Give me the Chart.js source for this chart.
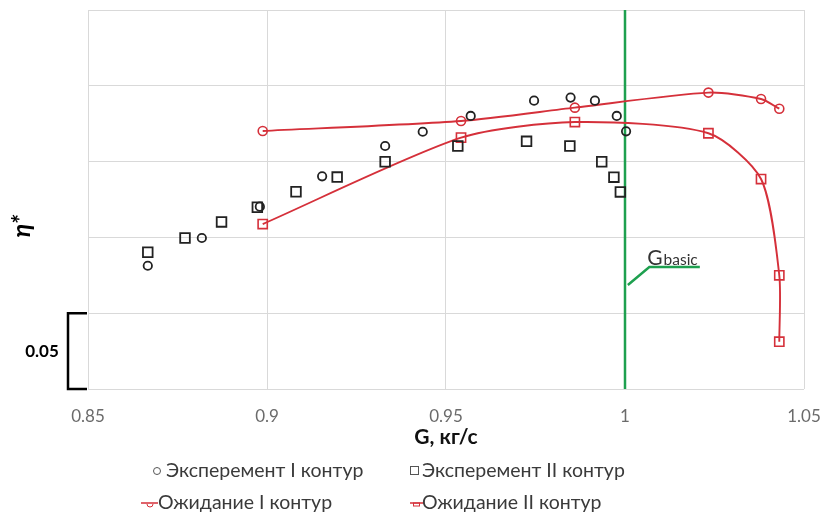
<!DOCTYPE html>
<html lang="ru">
<head>
<meta charset="utf-8">
<title>η* (G)</title>
<script src="https://cdn.jsdelivr.net/npm/chart.js@4.4.1/dist/chart.umd.min.js"></script>
<style>
  html, body { margin: 0; padding: 0; background: #fff; }
  #wrap { position: relative; width: 825px; height: 524px; }
</style>
</head>
<body>
<div id="wrap"><canvas id="chart"></canvas></div>
<script>
// Эксперимент I контур (кружки)
const exp1G   = [0.8667, 0.8818, 0.8980, 0.9154, 0.9330, 0.9435, 0.9569, 0.9746, 0.9848, 0.9916, 0.9977, 1.0003];
const exp1Eta = [0.6813, 0.6996, 0.7203, 0.7403, 0.7603, 0.7697, 0.7801, 0.7902, 0.7922, 0.7902, 0.7801, 0.7700];
// Эксперимент II контур (квадраты)
const exp2G   = [0.8667, 0.8771, 0.8873, 0.8973, 0.9081, 0.9196, 0.9330, 0.9533, 0.9725, 0.9846, 0.9935, 0.9969, 0.9987];
const exp2Eta = [0.6902, 0.6996, 0.7102, 0.7199, 0.7301, 0.7398, 0.7499, 0.7603, 0.7634, 0.7603, 0.7499, 0.7397, 0.7300];
// Ожидание I / II контур
const calc1G   = [0.8988, 0.9542, 0.9860, 1.0233, 1.0380, 1.0431];
const calc1Eta = [0.7702, 0.7768, 0.7856, 0.7955, 0.7913, 0.7849];
const calc2G   = [0.8988, 0.9542, 0.9860, 1.0233, 1.0380, 1.0431, 1.0431];
const calc2Eta = [0.7088, 0.7658, 0.7761, 0.7687, 0.7385, 0.6750, 0.6312];
// G basic marker
const gBasicG = [1.0, 1.0];
const gBasicEta = [0.6, 0.85];
const leaderG = [1.0008, 1.0068, 1.0209];
const leaderEta = [0.6686, 0.6805, 0.6805];
const gBasicLabelAt = [1.0062, 0.6818];
// axes
const xTicks = [0.85, 0.9, 0.95, 1, 1.05];
const yGrid = [0.6, 0.65, 0.7, 0.75, 0.8, 0.85];
const scaleBarEta = [0.6, 0.65];
const scaleBarText = '0.05';

const legendNames = ['Эксперемент I контур', 'Эксперемент II контур', 'Ожидание I контур', 'Ожидание II контур'];

const pts = (xs, ys) => xs.map((v, i) => ({ x: v, y: ys[i] }));

const RED = '#d5303a';
const GREEN = '#1ea04f';
const FONT = 'Lato, "Open Sans", sans-serif';

const extras = {
    id: 'extras',
    afterDraw: (chart) => {
        const { ctx, scales: { x, y } } = chart;
        ctx.save();

        // G basic label
        const lx = x.getPixelForValue(gBasicLabelAt[0]);
        const ly = y.getPixelForValue(gBasicLabelAt[1]);
        ctx.fillStyle = '#333';
        ctx.textBaseline = 'alphabetic';
        ctx.textAlign = 'left';
        ctx.font = '21px ' + FONT;
        ctx.fillText('G', lx, ly);
        const gw = ctx.measureText('G').width;
        ctx.font = '15.5px ' + FONT;
        ctx.fillText('basic', lx + gw + 1, ly);

        // scale bar 0.05
        const yb0 = y.getPixelForValue(scaleBarEta[0]);
        const yb1 = y.getPixelForValue(scaleBarEta[1]);
        ctx.strokeStyle = '#000';
        ctx.lineWidth = 2.5;
        ctx.beginPath();
        ctx.moveTo(87, yb1);
        ctx.lineTo(68, yb1);
        ctx.lineTo(68, yb0);
        ctx.lineTo(87, yb0);
        ctx.stroke();
        ctx.fillStyle = '#000';
        ctx.font = 'bold 17px ' + FONT;
        ctx.textAlign = 'center';
        ctx.textBaseline = 'middle';
        ctx.fillText(scaleBarText, 42, (yb0 + yb1) / 2);

        // y title
        ctx.save();
        ctx.translate(22, 226);
        ctx.rotate(-Math.PI / 2);
        ctx.font = 'italic bold 25px ' + FONT;
        ctx.fillText('η*', 0, 0);
        ctx.restore();

        // legend, 2 x 2
        ctx.font = '19.5px ' + FONT;
        ctx.fillStyle = '#3a3a3a';
        ctx.textAlign = 'left';
        ctx.textBaseline = 'middle';
        const r1 = 471, r2 = 503;
        ctx.fillText(legendNames[0], 166, r1);
        ctx.fillText(legendNames[1], 422, r1);
        ctx.fillText(legendNames[2], 158, r2);
        ctx.fillText(legendNames[3], 422, r2);

        ctx.strokeStyle = '#555';
        ctx.lineWidth = 1;
        ctx.beginPath();
        ctx.arc(157, r1, 3.5, 0, Math.PI * 2);
        ctx.stroke();
        ctx.strokeRect(410.5, r1 - 4.5, 8, 8);

        ctx.strokeStyle = RED;
        ctx.lineWidth = 1.5;
        ctx.beginPath();
        ctx.moveTo(141, r2); ctx.lineTo(158, r2);
        ctx.moveTo(410, r2); ctx.lineTo(423, r2);
        ctx.stroke();
        ctx.lineWidth = 1;
        ctx.beginPath();
        ctx.arc(150, r2 + 1, 3, 0, Math.PI);
        ctx.stroke();
        ctx.strokeRect(413.5, r2, 6, 3);

        ctx.restore();
    }
};

const ctx = document.getElementById('chart');
new Chart(ctx, {
    type: 'scatter',
    data: {
        datasets: [
            {
                label: legendNames[0], data: pts(exp1G, exp1Eta), order: 0,
                pointStyle: 'circle', pointRadius: 4.2, borderColor: '#222', borderWidth: 1.8,
                backgroundColor: 'rgba(0,0,0,0)', showLine: false
            },
            {
                label: legendNames[1], data: pts(exp2G, exp2Eta), order: 0,
                pointStyle: 'rect', pointRadius: 6.8, borderColor: '#222', borderWidth: 1.8,
                backgroundColor: 'rgba(0,0,0,0)', showLine: false
            },
            {
                label: legendNames[2], data: pts(calc1G, calc1Eta), order: 1,
                pointStyle: 'circle', pointRadius: 4.5, borderColor: RED, pointBorderWidth: 1.6,
                borderWidth: 1.9, backgroundColor: 'rgba(0,0,0,0)', showLine: true, tension: 0.25
            },
            {
                label: legendNames[3], data: pts(calc2G, calc2Eta), order: 1,
                pointStyle: 'rect', pointRadius: 6.5, borderColor: RED, pointBorderWidth: 1.6,
                borderWidth: 1.9, backgroundColor: 'rgba(0,0,0,0)', showLine: true, tension: 0.25
            },
            {
                label: 'Gbasic', data: pts(gBasicG, gBasicEta), order: 2,
                pointRadius: 0, borderColor: GREEN, borderWidth: 2.5, showLine: true
            },
            {
                label: 'leader', data: pts(leaderG, leaderEta), order: 2,
                pointRadius: 0, borderColor: GREEN, borderWidth: 2.5, showLine: true, tension: 0
            }
        ]
    },
    options: {
        responsive: true,
        maintainAspectRatio: false,
        animation: false,
        layout: { padding: { left: 0, right: 21, top: 10, bottom: 74 } },
        plugins: {
            legend: { display: false },
            tooltip: { enabled: false }
        },
        scales: {
            x: {
                type: 'linear', min: 0.85, max: 1.05,
                afterBuildTicks: (s) => { s.ticks = xTicks.map(v => ({ value: v })); },
                afterFit: (s) => { s.height = 61; s.paddingLeft = 0; s.paddingRight = 0; },
                ticks: { color: '#6b6b6b', font: { family: FONT, size: 17 }, padding: 17, callback: (v) => String(v) },
                grid: { color: '#d9d9d9', drawTicks: false, lineWidth: 1 },
                border: { display: false },
                title: { display: true, text: 'G, кг/с', color: '#111', font: { family: FONT, size: 21, weight: 'bold' }, padding: { top: 0, bottom: 0 } }
            },
            y: {
                type: 'linear', min: 0.6, max: 0.85,
                afterBuildTicks: (s) => { s.ticks = yGrid.map(v => ({ value: v })); },
                afterFit: (s) => { s.width = 88; },
                ticks: { display: false },
                grid: { color: '#d9d9d9', drawTicks: false, lineWidth: 1 },
                border: { display: false }
            }
        }
    },
    plugins: [extras]
});
</script>
</body>
</html>
